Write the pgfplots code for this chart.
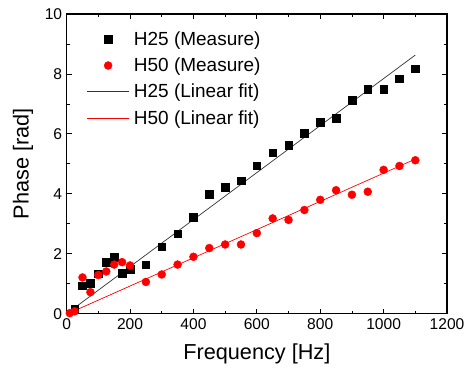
\documentclass[border=0pt]{standalone}
\usepackage{pgfplots}
\pgfplotsset{compat=1.18}
\usepackage{fontspec}
\setmainfont{Liberation Sans}
\pgfplotsset{
  markleg/.style={legend image code/.code={\draw[##1] plot coordinates {(21bp,0bp)};}},
  lineleg/.style={legend image code/.code={\draw[##1] (0bp,0bp) -- (42bp,0bp);}},
}
\begin{document}
\begin{tikzpicture}
\path[use as bounding box] (-66.7bp,-64bp) rectangle (397.7bp,314bp);
\begin{axis}[
  scale only axis,
  width=380.7bp, height=300bp,
  xmin=0, xmax=1200, ymin=0, ymax=10,
  xtick={0,200,...,1200}, ytick={0,2,...,10},
  minor x tick num=1, minor y tick num=1,
  tick align=inside,
  major tick length=5bp, minor tick length=3bp,
  axis line style={line width=1.1bp},
  every tick/.style={line width=0.8bp, black},
  /pgf/number format/assume math mode=true,
  /pgf/number format/1000 sep={},
  ticklabel style={font=\fontsize{15.6bp}{18bp}\selectfont},
  xticklabel style={yshift=-1bp},
  yticklabel style={xshift=-1bp},
  label style={font=\fontsize{21.7bp}{24bp}\selectfont},
  xlabel={Frequency [Hz]},
  ylabel={Phase [rad]},
  xlabel style={at={(axis description cs:0.5,0)}, anchor=north, yshift=-27bp},
  ylabel style={at={(axis description cs:0,0.5)}, anchor=south, yshift=30bp},
  legend style={draw=none, fill=none, at={(17bp,287bp)}, anchor=north west,
    font=\fontsize{19bp}{22bp}\selectfont, row sep=6bp,
    nodes={inner xsep=4.5bp, inner ysep=2.5bp}},
  legend cell align=left,
]
\addplot[only marks, mark=square*, mark size=3.8bp, black, markleg]
coordinates {
(25,0.17)(50,0.93)(75,1.02)(100,1.33)(125,1.72)(150,1.89)(175,1.35)(200,1.49)
(250,1.64)(300,2.24)(350,2.67)(400,3.23)(450,3.98)(500,4.22)(550,4.44)
(600,4.94)(650,5.37)(700,5.62)(750,6.03)(800,6.39)(850,6.53)(900,7.12)
(950,7.50)(1000,7.50)(1050,7.84)(1100,8.17)};
\addlegendentry{H25 (Measure)}
\addplot[only marks, mark=*, mark size=4bp, red, markleg]
coordinates {
(10,0.02)(25,0.08)(50,1.21)(75,0.72)(100,1.29)(125,1.41)(150,1.64)(175,1.72)
(200,1.61)(250,1.06)(300,1.31)(350,1.64)(400,1.90)(450,2.19)(500,2.31)
(550,2.31)(600,2.69)(650,3.18)(700,3.13)(750,3.46)(800,3.80)(850,4.12)
(900,3.97)(950,4.07)(1000,4.80)(1050,4.93)(1100,5.12)};
\addlegendentry{H50 (Measure)}
\addplot[black!80, line width=0.7bp, no marks, lineleg]
coordinates {(10,0.08)(1100,8.63)};
\addlegendentry{H25 (Linear fit)}
\addplot[red, line width=0.7bp, no marks, lineleg]
coordinates {(10,0.03)(1100,5.16)};
\addlegendentry{H50 (Linear fit)}
\end{axis}
\end{tikzpicture}
\end{document}
